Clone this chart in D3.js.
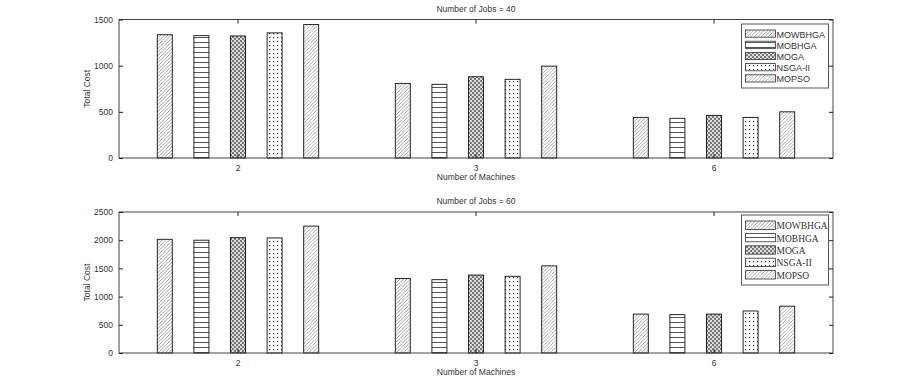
<!DOCTYPE html>
<html><head><meta charset="utf-8">
<script src="https://cdn.jsdelivr.net/npm/d3@7"></script>
<style>
body{margin:0;background:#fff;}
svg{display:block;font-family:"Liberation Sans",Arial,sans-serif;}
</style></head>
<body><svg id="c" width="921" height="383"></svg>
<script>
const categories = ["2","3","6"];
const series = ["MOWBHGA","MOBHGA","MOGA","NSGA-II","MOPSO"];
const jobs40 = [
  [1335, 1325, 1322, 1355, 1445],
  [808, 798, 880, 852, 995],
  [440, 430, 462, 440, 500]
];
const jobs60 = [
  [2016, 2000, 2045, 2040, 2250],
  [1322, 1300, 1382, 1360, 1545],
  [690, 680, 690, 745, 830]
];
const yTicks40 = [0, 500, 1000, 1500];
const yTicks60 = [0, 500, 1000, 1500, 2000, 2500];
const titles = ["Number of Jobs = 40", "Number of Jobs = 60"];

const svg = d3.select("#c");
const defs = svg.append("defs");
function hatch(id, sp, col){
  const p = defs.append("pattern").attr("id",id).attr("patternUnits","userSpaceOnUse")
    .attr("width",sp).attr("height",sp);
  p.append("rect").attr("width",sp).attr("height",sp).attr("fill","#fff");
  p.append("path").attr("d",`M0,${sp} L${sp},0 M${-sp/2},${sp/2} L${sp/2},${-sp/2} M${sp/2},${sp*1.5} L${sp*1.5},${sp/2}`)
    .attr("stroke",col).attr("stroke-width",0.8);
}
hatch("p0",3.5,"#888");
hatch("p4",3.5,"#999");
{
  const p = defs.append("pattern").attr("id","p1").attr("patternUnits","userSpaceOnUse").attr("width",4).attr("height",5);
  p.append("rect").attr("width",4).attr("height",5).attr("fill","#fff");
  p.append("line").attr("x1",0).attr("x2",4).attr("y1",2.5).attr("y2",2.5).attr("stroke","#555").attr("stroke-width",1);
}
{
  const p = defs.append("pattern").attr("id","p2").attr("patternUnits","userSpaceOnUse").attr("width",4).attr("height",4);
  p.append("rect").attr("width",4).attr("height",4).attr("fill","#ddd");
  p.append("rect").attr("width",2).attr("height",2).attr("fill","#777");
  p.append("rect").attr("x",2).attr("y",2).attr("width",2).attr("height",2).attr("fill","#777");
}
{
  const p = defs.append("pattern").attr("id","p3").attr("patternUnits","userSpaceOnUse").attr("width",4).attr("height",4);
  p.append("rect").attr("width",4).attr("height",4).attr("fill","#fff");
  p.append("rect").attr("x",1).attr("y",1).attr("width",1.2).attr("height",1.2).attr("fill","#333");
}
const pats = ["p0","p1","p2","p3","p4"];

const L = 119, R = 833;
const panels = [
  {data: jobs40, ticks: yTicks40, max: 1500, top: 19.5, bot: 158, title: titles[0], legTop: 24, legFont: "Liberation Sans", legH: 64},
  {data: jobs60, ticks: yTicks60, max: 2500, top: 212, bot: 353, title: titles[1], legTop: 215, legFont: "Liberation Serif", legH: 70}
];

const x = d3.scaleBand().domain(categories).range([L, R]).paddingInner(0).paddingOuter(0);
const xs = d3.scaleBand().domain(series).range([-80.7, 80.7]).paddingInner(0.59).paddingOuter(0);

panels.forEach(P => {
  const g = svg.append("g");
  const y = d3.scaleLinear().domain([0, P.max]).range([P.bot, P.top]);
  categories.forEach((c, ci) => {
    const cx = x(c) + x.bandwidth()/2;
    g.selectAll(null).data(P.data[ci]).enter().append("rect")
      .attr("x", (d,i) => cx + xs(series[i]))
      .attr("width", xs.bandwidth())
      .attr("y", d => y(d))
      .attr("height", d => P.bot - y(d))
      .attr("fill", (d,i) => `url(#${pats[i]})`)
      .attr("stroke", "#111").attr("stroke-width", 0.9);
  });
  g.append("rect").attr("x", L).attr("y", P.top).attr("width", R-L).attr("height", P.bot-P.top)
    .attr("fill","none").attr("stroke","#444").attr("stroke-width",1);
  const yl = d3.axisLeft(y).tickValues(P.ticks).tickSize(-4).tickPadding(6).tickFormat(d3.format("d"));
  const ya = g.append("g").attr("transform",`translate(${L},0)`).call(yl);
  const yr = d3.axisRight(y).tickValues(P.ticks).tickSize(-4).tickFormat("");
  const yb = g.append("g").attr("transform",`translate(${R},0)`).call(yr);
  const xb = d3.axisBottom(x).tickSize(-4).tickPadding(7);
  const xa = g.append("g").attr("transform",`translate(0,${P.bot})`).call(xb);
  const xt = d3.axisTop(x).tickSize(-4).tickFormat("");
  const xtt = g.append("g").attr("transform",`translate(0,${P.top})`).call(xt);
  [ya,yb,xa,xtt].forEach(a => {
    a.select(".domain").remove();
    a.selectAll("line").attr("stroke","#222");
    a.selectAll("text").attr("font-size",8.5).attr("fill","#333").attr("font-family","Liberation Sans, Arial, sans-serif");
  });
  g.append("text").attr("x", (L+R)/2).attr("y", P.top - 8).attr("text-anchor","middle")
    .attr("font-size",8.5).attr("fill","#333").text(P.title);
  g.append("text").attr("x", (L+R)/2).attr("y", P.bot + 22).attr("text-anchor","middle")
    .attr("font-size",8.5).attr("fill","#333").text("Number of Machines");
  g.append("text").attr("transform",`translate(90,${(P.top+P.bot)/2}) rotate(-90)`).attr("text-anchor","middle")
    .attr("font-size",8.5).attr("fill","#333").text("Total Cost");
  const lx = 741.5, lw = 87;
  const lg = g.append("g");
  lg.append("rect").attr("x", lx).attr("y", P.legTop).attr("width", lw).attr("height", P.legH)
    .attr("fill","#fff").attr("stroke","#555").attr("stroke-width",1);
  const step = (P.legH - 8) / series.length;
  series.forEach((s,i) => {
    const yy = P.legTop + 5 + i*step;
    lg.append("rect").attr("x", lx+4).attr("y", yy+1).attr("width", 30).attr("height", step-4)
      .attr("fill", `url(#${pats[i]})`).attr("stroke","#333").attr("stroke-width",0.8);
    lg.append("text").attr("x", lx+35).attr("y", yy + step/2 + 3)
      .attr("font-size", P.legFont === "Liberation Serif" ? 9.5 : 9)
      .attr("font-family", P.legFont).attr("fill","#333").text(s);
  });
});
</script></body></html>
